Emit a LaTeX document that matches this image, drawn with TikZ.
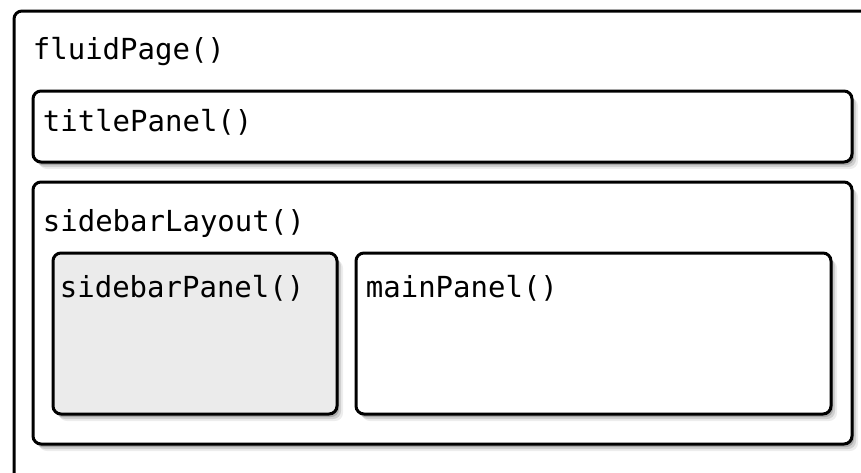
\documentclass[tikz,border=0pt]{standalone}
\usepackage{fontspec}
\setmonofont{DejaVu Sans Mono}
\definecolor{sidegray}{RGB}{235, 235, 235}
\usepackage{tikz}
\usetikzlibrary{shadows, fit, positioning}

\tikzset{
  softshadow/.style={
    drop shadow={shadow xshift=1pt, shadow yshift=-1.5pt, opacity=0.18, fill=black},
    drop shadow={shadow xshift=2pt, shadow yshift=-2.5pt, opacity=0.12, fill=black},
    drop shadow={shadow xshift=3pt, shadow yshift=-3.5pt, opacity=0.07, fill=black}},
  panel/.style={draw=black, line width=1.5pt, rounded corners=4pt, fill=white, inner sep=0pt, softshadow},
  fnlabel/.style={anchor=base west, inner sep=0pt, font=\ttfamily\fontsize{14.5pt}{17pt}\selectfont}
}

\begin{document}
\begin{tikzpicture}[x=0.5pt, y=-0.5pt]
  \useasboundingbox (0,0) rectangle (861,472);
  \clip (0,0) rectangle (861,472);
  % outer page, runs off the right and bottom
  \node[panel, fit={(14,11) (885,500)}] (fluid) {};
  \node[fnlabel] (fluidtxt) at ([shift={(10pt,-25pt)}]fluid.north west) {fluidPage()};
  % title row
  \node[panel, fit={(33,91) (852,162)}] (title) {};
  \node[fnlabel] (titletxt) at ([shift={(5.5pt,-21pt)}]title.north west) {titlePanel()};
  % sidebar layout
  \node[panel, fit={(33,182) (852,444)}] (layout) {};
  \node[fnlabel] (layouttxt) at ([shift={(5.5pt,-25.5pt)}]layout.north west) {sidebarLayout()};
  \node[panel, fill=sidegray, fit={(53,253) (337,414)}] (side) {};
  \node[fnlabel] (sidetxt) at ([shift={(4pt,-23pt)}]side.north west) {sidebarPanel()};
  \node[panel, fit={(356,253) (831,414)}] (main) {};
  \node[fnlabel] (maintxt) at ([shift={(5.5pt,-23pt)}]main.north west) {mainPanel()};
\end{tikzpicture}
\end{document}
